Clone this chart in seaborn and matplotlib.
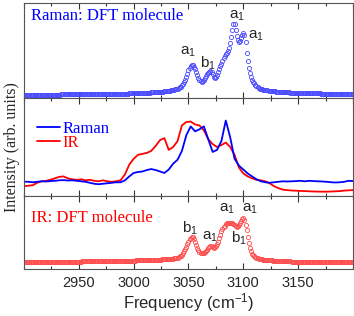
import numpy as np
import pandas as pd
import matplotlib
matplotlib.use('Agg')
import matplotlib.pyplot as plt
import seaborn as sns
from matplotlib.ticker import MultipleLocator

# DFT spectra, one value per cm-1 from 2900 to 3200
dft_freq = np.arange(2900, 3201, 1)
raman_dft = [
    .035, .035, .035, .035, .035, .035, .035, .035, .035, .035,
    .035, .035, .035, .035, .035, .035, .035, .035, .035, .035,
    .035, .035, .035, .036, .036, .036, .036, .036, .036, .036,
    .036, .036, .036, .036, .037, .037, .037, .037, .037, .037,
    .037, .037, .037, .038, .038, .038, .038, .038, .038, .038,
    .038, .039, .039, .039, .039, .039, .039, .039, .040, .040,
    .040, .040, .040, .040, .040, .041, .041, .041, .041, .041,
    .041, .042, .042, .042, .042, .042, .043, .043, .043, .043,
    .043, .044, .044, .044, .044, .045, .045, .045, .045, .046,
    .046, .046, .046, .047, .047, .047, .048, .048, .048, .049,
    .049, .049, .050, .050, .051, .051, .052, .052, .053, .053,
    .054, .054, .055, .056, .056, .057, .058, .058, .059, .060,
    .061, .062, .063, .064, .065, .066, .067, .068, .070, .071,
    .073, .074, .076, .078, .080, .082, .084, .087, .090, .094,
    .099, .105, .112, .121, .132, .146, .165, .190, .220, .255,
    .290, .318, .338, .347, .343, .330, .305, .272, .238, .208,
    .187, .175, .172, .177, .190, .208, .230, .252, .268, .278,
    .280, .272, .252, .225, .212, .218, .240, .272, .305, .335,
    .362, .392, .420, .445, .462, .475, .495, .530, .578, .640,
    .720, .782, .775, .720, .655, .608, .590, .605, .635, .668,
    .687, .660, .585, .470, .390, .320, .268, .222, .190, .170,
    .155, .142, .130, .118, .108, .100, .096, .092, .089, .086,
    .084, .082, .080, .078, .076, .075, .073, .072, .071, .070,
    .068, .067, .066, .065, .064, .063, .062, .061, .061, .060,
    .059, .059, .058, .057, .057, .056, .056, .055, .055, .054,
    .054, .054, .053, .053, .052, .052, .052, .051, .051, .051,
    .050, .050, .050, .049, .049, .049, .049, .048, .048, .048,
    .048, .047, .047, .047, .047, .046, .046, .046, .046, .046,
    .045, .045, .045, .045, .045, .044, .044, .044, .044, .044,
    .043, .043, .043, .043, .043, .043, .042, .042, .042, .042,
    .042]
ir_dft = [
    .100, .100, .100, .100, .100, .100, .100, .100, .100, .100,
    .100, .100, .100, .100, .100, .100, .100, .100, .100, .100,
    .100, .100, .100, .100, .100, .100, .100, .100, .100, .100,
    .100, .100, .100, .100, .100, .101, .101, .101, .101, .101,
    .101, .101, .101, .101, .101, .102, .102, .102, .102, .102,
    .102, .102, .102, .103, .103, .103, .103, .103, .103, .104,
    .104, .104, .104, .104, .105, .105, .105, .105, .105, .106,
    .106, .106, .106, .107, .107, .107, .107, .108, .108, .108,
    .108, .109, .109, .109, .110, .110, .110, .111, .111, .111,
    .112, .112, .112, .113, .113, .114, .114, .114, .115, .115,
    .116, .116, .117, .117, .118, .118, .119, .119, .120, .120,
    .121, .121, .122, .122, .123, .123, .124, .124, .125, .126,
    .126, .127, .128, .128, .129, .130, .131, .131, .132, .133,
    .134, .135, .136, .138, .139, .141, .143, .145, .148, .152,
    .157, .163, .172, .183, .198, .218, .243, .272, .305, .340,
    .375, .405, .428, .440, .435, .412, .372, .328, .288, .258,
    .238, .225, .218, .216, .220, .230, .245, .265, .285, .302,
    .312, .310, .298, .290, .295, .312, .340, .375, .420, .470,
    .515, .550, .575, .595, .612, .625, .632, .635, .635, .632,
    .628, .620, .605, .590, .582, .585, .600, .625, .655, .680,
    .692, .665, .600, .534, .440, .350, .285, .240, .212, .190,
    .175, .162, .152, .146, .141, .137, .134, .131, .129, .127,
    .125, .123, .122, .121, .119, .118, .117, .116, .115, .114,
    .113, .112, .111, .110, .109, .108, .107, .106, .106, .105,
    .104, .104, .103, .103, .102, .101, .101, .100, .100, .100,
    .099, .099, .099, .098, .098, .098, .097, .097, .097, .097,
    .096, .096, .096, .096, .096, .095, .095, .095, .095, .095,
    .095, .094, .094, .094, .094, .094, .094, .094, .093, .093,
    .093, .093, .093, .093, .093, .093, .093, .092, .092, .092,
    .092, .092, .092, .092, .092, .092, .092, .092, .092, .092,
    .092]

# experimental spectra, every 4 cm-1
exp_freq = np.arange(2900, 3201, 4)
raman_exp = [
    .146, .145, .140, .145, .150, .148, .152, .155, .160, .162,
    .158, .160, .155, .150, .145, .135, .125, .120, .125, .130,
    .135, .140, .140, .160, .200, .235, .245, .250, .265, .275,
    .265, .250, .235, .270, .330, .370, .460, .620, .710, .660,
    .680, .710, .580, .450, .470, .560, .770, .600, .380, .310,
    .270, .230, .200, .170, .150, .140, .135, .140, .145, .150,
    .148, .150, .152, .155, .150, .155, .152, .150, .148, .145,
    .140, .138, .140, .145, .155, .152]
ir_exp = [
    .100, .105, .110, .135, .150, .155, .165, .180, .195, .200,
    .180, .170, .165, .170, .160, .165, .155, .150, .160, .150,
    .145, .150, .160, .220, .320, .380, .420, .430, .440, .460,
    .510, .570, .590, .470, .500, .560, .720, .755, .760, .730,
    .720, .670, .580, .530, .500, .520, .545, .500, .420, .290,
    .230, .200, .180, .165, .160, .150, .130, .100, .080, .065,
    .060, .056, .054, .052, .050, .048, .046, .045, .044, .044,
    .046, .048, .050, .055, .058, .060]

# mode labels: (freq, value, text)
raman_labels = [(3050, 0.49, 'a$_1$'), (3068, 0.37, 'b$_1$'),
                (3094, 0.87, 'a$_1$'), (3112, 0.66, 'a$_1$')]
ir_labels = [(3051, 0.56, 'b$_1$'), (3070, 0.44, 'a$_1$'),
             (3085, 0.83, 'a$_1$'), (3096, 0.42, 'b$_1$'),
             (3106, 0.83, 'a$_1$')]

sns.set_style("ticks")
plt.rcParams['font.family'] = ['Liberation Sans', 'DejaVu Sans']
plt.rcParams['mathtext.fontset'] = 'custom'
plt.rcParams['mathtext.rm'] = 'Liberation Sans'
plt.rcParams['mathtext.it'] = 'Liberation Sans'
serif = ['Liberation Serif', 'DejaVu Serif']

fig = plt.figure(figsize=(3.54, 3.16), dpi=100)
left, width = 24 / 354, 329 / 354
ax1 = fig.add_axes([left, 1 - 98 / 316, width, 95 / 316])
ax2 = fig.add_axes([left, 1 - 196 / 316, width, 98 / 316])
ax3 = fig.add_axes([left, 1 - 269 / 316, width, 73 / 316])

df_dft = pd.DataFrame({'freq': dft_freq, 'raman': raman_dft, 'ir': ir_dft})
df_exp = pd.DataFrame({'freq': exp_freq, 'raman': raman_exp, 'ir': ir_exp})

blue_m = '#4a4aff'
red_m = '#ff4d4d'

sns.lineplot(data=df_dft, x='freq', y='raman', ax=ax1, linestyle='none',
             marker='o', markersize=3.0, markerfacecolor='none',
             markeredgecolor=blue_m, markeredgewidth=0.6)
sns.lineplot(data=df_dft, x='freq', y='ir', ax=ax3, linestyle='none',
             marker='o', markersize=3.0, markerfacecolor='none',
             markeredgecolor=red_m, markeredgewidth=0.6)

sns.lineplot(data=df_exp, x='freq', y='ir', ax=ax2, color='#ff0000',
             linewidth=1.3, label='IR')
sns.lineplot(data=df_exp, x='freq', y='raman', ax=ax2, color='#0000ff',
             linewidth=1.3, label='Raman')
h, l = ax2.get_legend_handles_labels()
leg = ax2.legend(h[::-1], l[::-1], loc='upper left', frameon=False,
                 bbox_to_anchor=(0.04, 0.77), borderpad=0, borderaxespad=0,
                 handlelength=1.4, handletextpad=0.12, labelspacing=-0.08,
                 prop={'family': serif, 'size': 12})
for txt, c in zip(leg.get_texts(), ['#0000ff', '#ff0000']):
    txt.set_color(c)

ax1.text(0.022, 0.86, 'Raman: DFT molecule', transform=ax1.transAxes,
         color='#0000ff', fontsize=12, family=serif, va='center')
ax3.text(0.022, 0.7, 'IR: DFT molecule', transform=ax3.transAxes,
         color='#ff0000', fontsize=12, family=serif, va='center')

for f, v, s in raman_labels:
    ax1.text(f, v, s, fontsize=11, ha='center', va='center')
for f, v, s in ir_labels:
    ax3.text(f, v, s, fontsize=11, ha='center', va='center')

for ax in (ax1, ax2, ax3):
    ax.set_xlim(2900, 3200)
    ax.set_ylim(0, 1)
    ax.xaxis.set_major_locator(MultipleLocator(50))
    ax.xaxis.set_minor_locator(MultipleLocator(25))
    ax.tick_params(axis='x', which='both', direction='in', top=True,
                   bottom=True, color='#333333', width=0.8)
    ax.tick_params(axis='x', which='major', length=4)
    ax.tick_params(axis='x', which='minor', length=2.5)
    ax.tick_params(axis='y', left=False, labelleft=False)
    ax.set_xlabel('')
    ax.set_ylabel('')
    for sp in ax.spines.values():
        sp.set_color('#555555')
        sp.set_linewidth(0.8)
for ax in (ax1, ax2):
    ax.tick_params(axis='x', labelbottom=False)

ax3.set_xticks([2950, 3000, 3050, 3100, 3150])
ax3.tick_params(axis='x', labelsize=10.5, pad=5)
ax3.set_xlabel('Frequency (cm$^{-1}$)', fontsize=12, labelpad=1)
fig.text(0.034, 0.535, 'Intensity (arb. units)', rotation=90,
         ha='center', va='center', fontsize=11.5, family=serif)

fig.savefig('out.png', dpi=100)
